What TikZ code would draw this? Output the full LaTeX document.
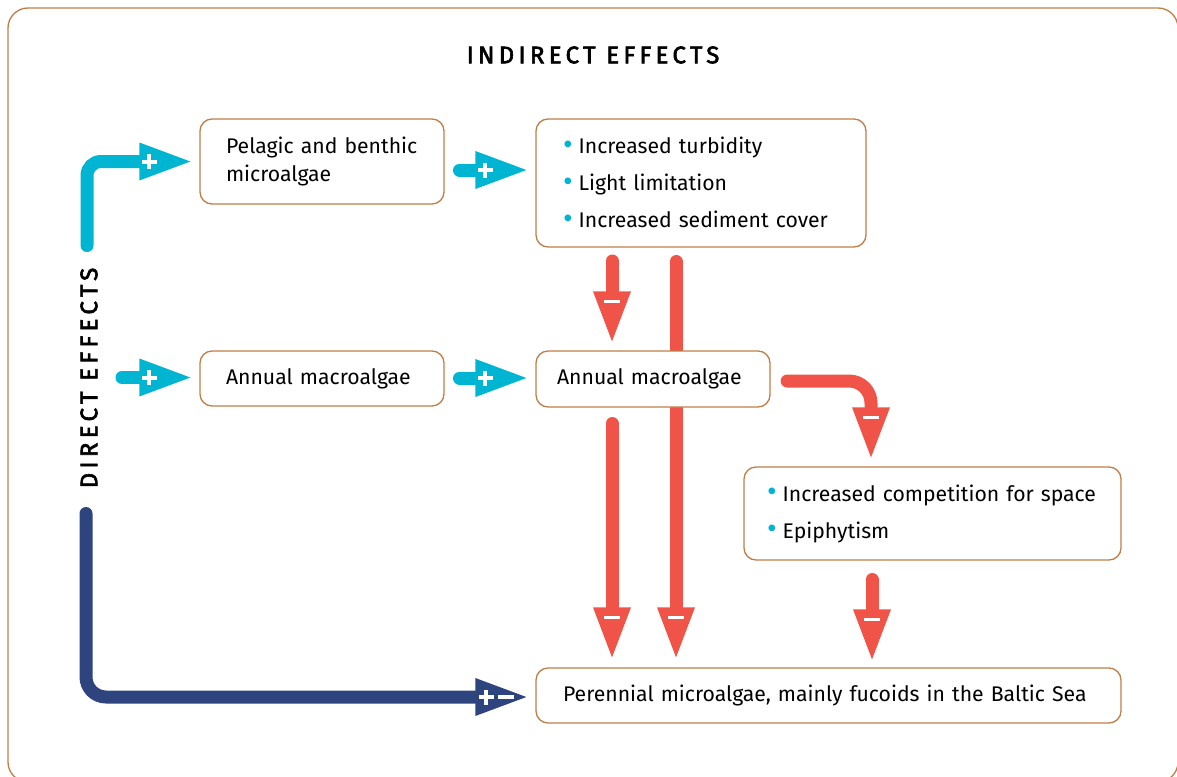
\documentclass[tikz,border=0pt]{standalone}
\usepackage{fontspec}
\usepackage{graphicx}
\setmainfont{Fira Sans}
\newfontfamily\headfont{Fira Sans}[LetterSpace=18]
\usetikzlibrary{arrows.meta,calc,backgrounds}
\definecolor{framec}{RGB}{190,126,72}
\definecolor{cyanc}{RGB}{0,181,210}
\definecolor{redc}{RGB}{240,84,72}
\definecolor{navyc}{RGB}{46,68,126}
\newcommand{\bul}{{\color{cyanc}\raisebox{-0.05ex}{\scalebox{1.4}{\textbullet}}}\hspace{6pt}}
\newcommand{\oneline}[1]{\mbox{#1}}
\newcommand{\medium}[1]{\special{pdf:literal direct 2 Tr 0.6 w}#1\special{pdf:literal direct 0 Tr 1 w}}
\begin{document}
\begin{tikzpicture}[x=1pt,y=-1pt,
  ebox/.style={draw=framec, line width=1.3pt, rounded corners=12pt, fill=white,
    align=left, font=\fontsize{21.2}{28}\selectfont, inner ysep=0pt},
  lbox/.style={ebox, font=\fontsize{21.2}{37}\selectfont},
  headtxt/.style={font=\headfont\fontsize{24}{28}\selectfont},
  cyarr/.style={draw=cyanc, line width=13pt, line cap=round,
    -{Triangle[length=51pt,width=38pt,line width=0pt]}},
  rdarr/.style={draw=redc, line width=13pt, line cap=round,
    -{Triangle[length=50pt,width=38pt,line width=0pt]}},
  nvarr/.style={draw=navyc, line width=13pt, line cap=round,
    -{Triangle[length=51pt,width=38pt,line width=0pt]}},
  plussign/.pic={\draw[white,line width=4pt] (-7.5,0)--(7.5,0) (0,-7.5)--(0,7.5);},
  minussign/.pic={\draw[white,line width=3.6pt] (-8,0)--(8,0);}
]
\useasboundingbox (0,0) rectangle (1177,776);

% titles
\node[headtxt] (ind) at (593,55) {\medium{INDIRECT EFFECTS}};
\node[headtxt, rotate=90] (dir) at (89,378) {\medium{DIRECT EFFECTS}};

% boxes
\node[ebox, minimum height=85pt, text width=192pt, inner xsep=26pt] (pel) at (322,161.5)
  {\oneline{Pelagic and benthic}\\\oneline{microalgae}};
\node[lbox, minimum height=128pt, text width=276pt, inner xsep=27pt] (turb) at (701,183)
  {\oneline{\bul Increased turbidity}\\\oneline{\bul Light limitation}\\\oneline{\bul Increased sediment cover}};
\node[ebox, minimum height=55pt, text width=192pt, inner xsep=26pt] (ann1) at (322,378.5)
  {\oneline{Annual macroalgae}};
\node[ebox, minimum height=56pt, text width=192pt, inner xsep=21pt] (ann2) at (653,379)
  {\oneline{Annual macroalgae}};
\node[lbox, minimum height=93pt, text width=331pt, inner xsep=23pt] (comp) at (932.5,513.5)
  {\oneline{\bul Increased competition for space}\\\oneline{\bul Epiphytism}};
\node[ebox, minimum height=55pt, text width=531pt, inner xsep=27pt] (per) at (828.5,695.5)
  {\oneline{Perennial microalgae, mainly fucoids in the Baltic Sea}};

% coordinates
\coordinate (s1) at (87,245.5);
\coordinate (t1) at ($(pel.west)+(-9,0)$);
\coordinate (s2) at (459.5,170);
\coordinate (t2) at ($(s2 -| turb.west)+(-9,0)$);
\coordinate (s3) at (122,377.5);
\coordinate (t3) at ($(s3 -| ann1.west)+(-9,0)$);
\coordinate (s4) at (459.5,378);
\coordinate (t4) at ($(s4 -| ann2.west)+(-9,0)$);
\coordinate (s5) at (612,261);
\coordinate (t5) at ($(s5 |- ann2.north)+(0,-9)$);
\coordinate (s6) at (676,261.5);
\coordinate (t6) at ($(s6 |- per.north)+(0,-10)$);
\coordinate (s7) at (612,423.5);
\coordinate (t7) at ($(s7 |- per.north)+(0,-10)$);
\coordinate (s8) at ($(ann2.east)+(16.5,2)$);
\coordinate (k8) at (871,0);
\coordinate (t8) at ($(k8 |- comp.north)+(0,-9)$);
\coordinate (s9) at (872,579.5);
\coordinate (t9) at ($(s9 |- per.north)+(0,-8)$);
\coordinate (s10) at (86,513.5);
\coordinate (t10) at ($(per.west)+(-9,1.5)$);

\begin{scope}[on background layer]
  \draw[framec, line width=1.3pt, rounded corners=20pt] (8,8) rectangle (1178,782);
  \draw[cyarr, rounded corners=14pt] (s1) |- (t1);
  \draw[cyarr] (s2) -- (t2);
  \draw[cyarr] (s3) -- (t3);
  \draw[cyarr] (s4) -- (t4);
  \draw[rdarr] (s5) -- (t5);
  \draw[rdarr] (s6) -- (t6);
  \draw[rdarr] (s7) -- (t7);
  \draw[rdarr, rounded corners=22pt] (s8) -| (t8);
  \draw[rdarr] (s9) -- (t9);
  \draw[nvarr, rounded corners=20pt] (s10) |- (t10);
\end{scope}

% signs
\pic at ($(t1)+(-41,0)$) {plussign};
\pic at ($(t2)+(-41,0)$) {plussign};
\pic at ($(t3)+(-41,0)$) {plussign};
\pic at ($(t4)+(-41,0)$) {plussign};
\pic at ($(t5)+(0,-40)$) {minussign};
\pic at ($(t6)+(0,-40)$) {minussign};
\pic at ($(t7)+(0,-40)$) {minussign};
\pic at ($(t8)+(0,-40)$) {minussign};
\pic at ($(t9)+(0,-40)$) {minussign};
\pic at ($(t10)+(-40,0)$) {plussign};
\pic at ($(t10)+(-20,0)$) {minussign};
\end{tikzpicture}
\end{document}
